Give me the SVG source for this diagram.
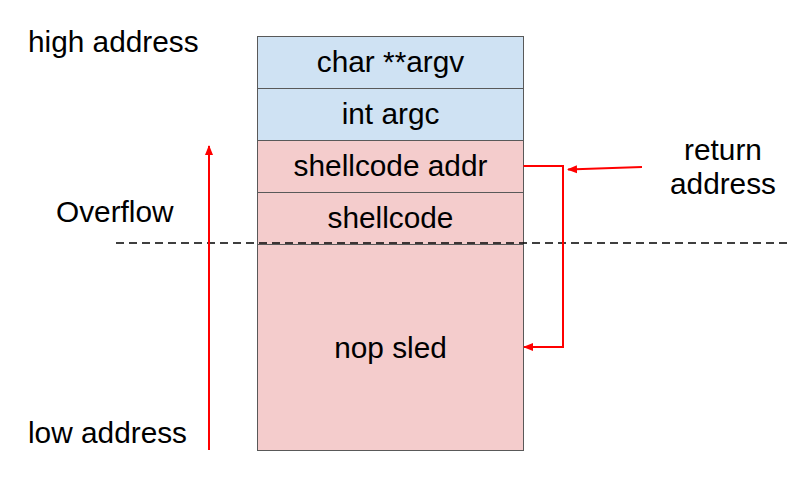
<svg xmlns="http://www.w3.org/2000/svg" width="791" height="504" viewBox="0 0 791 504">
<style>
text{font-family:"Liberation Sans",Arial,sans-serif;font-size:29.8px;fill:#000}
.c{text-anchor:middle}
.blue{fill:#cfe2f3;stroke:#595959;stroke-width:1}
.red{fill:#f4cccc;stroke:#595959;stroke-width:1}
.ra{fill:none;stroke:#ff0000;stroke-width:2}
</style>
<defs>
<marker id="ah" viewBox="0 0 10 10" refX="9" refY="5" markerWidth="5" markerHeight="5" orient="auto" markerUnits="strokeWidth">
<path d="M0,1 L10,5 L0,9 z" fill="#ff0000"/>
</marker>
</defs>
<rect width="791" height="504" fill="#fff"/>
<g id="argv"><rect class="blue" x="257.5" y="36.5" width="266" height="52"/><text class="c" x="390.5" y="72">char **argv</text></g>
<g id="argc"><rect class="blue" x="257.5" y="88.5" width="266" height="52"/><text class="c" x="390.5" y="124">int argc</text></g>
<g id="addr"><rect class="red" x="257.5" y="140.5" width="266" height="52"/><text class="c" x="390.5" y="176">shellcode addr</text></g>
<g id="shellcode"><rect class="red" x="257.5" y="192.5" width="266" height="52"/><text class="c" x="390.5" y="228">shellcode</text></g>
<g id="nop"><rect class="red" x="257.5" y="244.5" width="266" height="206"/><text class="c" x="390.5" y="358">nop sled</text></g>
<g id="labels">
<text x="28" y="52">high address</text>
<text x="56" y="222">Overflow</text>
<text x="28" y="443">low address</text>
<text class="c" x="723" y="160">return</text>
<text class="c" x="723" y="194">address</text>
</g>
<g id="connectors">
<line x1="116" y1="243" x2="791" y2="243" stroke="#000" stroke-width="1.5" stroke-dasharray="8,5"/>
<line class="ra" x1="209" y1="450" x2="209" y2="146" marker-end="url(#ah)"/>
<polyline class="ra" points="523.5,166 563,166 563,347 524,347" marker-end="url(#ah)"/>
<line class="ra" x1="642" y1="167" x2="568" y2="169.5" marker-end="url(#ah)"/>
</g>
</svg>
